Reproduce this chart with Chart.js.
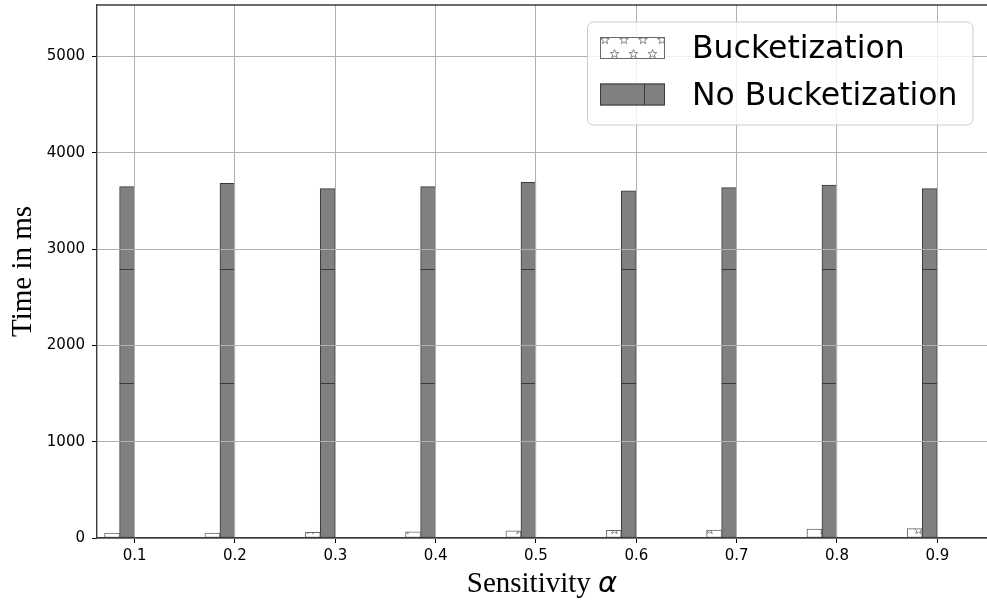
<!DOCTYPE html>
<html>
<head>
<meta charset="utf-8">
<script src="https://cdn.jsdelivr.net/npm/chart.js@4.4.0/dist/chart.umd.min.js"></script>
<style>
  html, body { margin: 0; padding: 0; background: #fff; }
  #wrap { width: 987px; height: 603px; }
</style>
</head>
<body>
<div id="wrap"><canvas id="grafico" width="987" height="603"></canvas></div>
<script>
// sensitivity values on the x axis
const alphas = [0.1, 0.2, 0.3, 0.4, 0.5, 0.6, 0.7, 0.8, 0.9];
// run time in ms
const timeBucket = [50, 52, 58, 65, 74, 80, 83, 92, 98];
const timeNoBucket = [3649, 3683, 3628, 3649, 3693, 3604, 3638, 3666, 3628];
const yTicks = [0, 1000, 2000, 3000, 4000, 5000];
const seriesNames = ['Bucketization', 'No Bucketization'];

// bar width in alpha units, both bars sit left of the tick
const barW = 0.015;
const hatchRows = [1610, 2795];

function drawStar(g, cx, cy, ro, ri) {
  g.beginPath();
  for (let k = 0; k < 10; k++) {
    const r = k % 2 ? ri : ro;
    const a = -Math.PI / 2 + k * Math.PI / 5;
    const px = cx + r * Math.cos(a), py = cy + r * Math.sin(a);
    if (k === 0) g.moveTo(px, py); else g.lineTo(px, py);
  }
  g.closePath();
  g.stroke();
}

// star hatch, two offset rows per tile, wrapped at the tile edges
function starPattern() {
  const tw = 19, th = 28;
  const c = document.createElement('canvas');
  c.width = tw; c.height = th;
  const g = c.getContext('2d');
  g.fillStyle = '#fff';
  g.fillRect(0, 0, tw, th);
  g.strokeStyle = '#7a7a7a';
  g.lineWidth = 0.9;
  [[16, 12], [6.5, 26]].forEach(([sx, sy]) => {
    for (let dx = -1; dx <= 1; dx++) {
      for (let dy = -1; dy <= 1; dy++) {
        drawStar(g, sx + dx * tw, sy + dy * th, 4.6, 1.9);
      }
    }
  });
  return g.createPattern(c, 'repeat');
}
const stars = starPattern();

const darkFill = '#808080';
const darkEdge = '#3a3a3a';
const lightEdge = '#6a6a6a';

const extras = {
  id: 'extras',
  afterDatasetsDraw(chart) {
    // horizontal hatch strokes on the dark bars
    const ctx = chart.ctx;
    const y = chart.scales.y;
    const meta = chart.getDatasetMeta(1);
    ctx.save();
    ctx.strokeStyle = darkEdge;
    ctx.lineWidth = 1;
    meta.data.forEach((bar, i) => {
      hatchRows.forEach(v => {
        if (v >= timeNoBucket[i]) return;
        const py = Math.round(y.getPixelForValue(v)) + 0.5;
        ctx.beginPath();
        ctx.moveTo(bar.x - bar.width / 2, py);
        ctx.lineTo(bar.x + bar.width / 2, py);
        ctx.stroke();
      });
    });
    ctx.restore();
  },
  afterDraw(chart) {
    const ctx = chart.ctx;
    const area = chart.chartArea;
    ctx.save();

    // top spine
    ctx.strokeStyle = '#3a3a3a';
    ctx.lineWidth = 1.4;
    ctx.beginPath();
    ctx.moveTo(area.left, area.top);
    ctx.lineTo(area.right, area.top);
    ctx.stroke();

    // x title with an italic alpha
    const t1 = 'Sensitivity ';
    const t2 = '\u03b1';
    const f1 = '29px "Liberation Serif"';
    const f2 = 'italic 29px "DejaVu Sans"';
    ctx.font = f1; const w1 = ctx.measureText(t1).width;
    ctx.font = f2; const w2 = ctx.measureText(t2).width;
    const cx = (area.left + area.right) / 2;
    const x0 = cx - (w1 + w2) / 2;
    ctx.fillStyle = '#000';
    ctx.textBaseline = 'alphabetic';
    ctx.textAlign = 'left';
    ctx.font = f1; ctx.fillText(t1, x0, 592);
    ctx.font = f2; ctx.fillText(t2, x0 + w1, 592);

    // legend box
    const bx = 587.5, by = 22, bw = 385.5, bh = 103, r = 6;
    ctx.beginPath();
    ctx.moveTo(bx + r, by);
    ctx.arcTo(bx + bw, by, bx + bw, by + bh, r);
    ctx.arcTo(bx + bw, by + bh, bx, by + bh, r);
    ctx.arcTo(bx, by + bh, bx, by, r);
    ctx.arcTo(bx, by, bx + bw, by, r);
    ctx.closePath();
    ctx.fillStyle = 'rgba(255,255,255,0.8)';
    ctx.fill();
    ctx.strokeStyle = '#cccccc';
    ctx.lineWidth = 1;
    ctx.stroke();

    // legend patches
    ctx.fillStyle = stars;
    ctx.fillRect(600, 37, 65, 22);
    ctx.strokeStyle = lightEdge;
    ctx.strokeRect(600.5, 37.5, 64, 21);

    ctx.fillStyle = darkFill;
    ctx.fillRect(600, 83.5, 65, 22);
    ctx.strokeStyle = darkEdge;
    ctx.strokeRect(600.5, 84, 64, 21);
    ctx.beginPath();
    ctx.moveTo(644.5, 84);
    ctx.lineTo(644.5, 105);
    ctx.stroke();

    ctx.fillStyle = '#000';
    ctx.font = '31.5px "DejaVu Sans"';
    ctx.fillText(seriesNames[0], 692, 58);
    ctx.fillText(seriesNames[1], 692, 105);
    ctx.restore();
  }
};

const ctx = document.getElementById('grafico').getContext('2d');
new Chart(ctx, {
  type: 'bar',
  data: {
    datasets: [{
      label: seriesNames[0],
      data: alphas.map((a, i) => ({ x: a - 1.5 * barW, y: timeBucket[i] })),
      backgroundColor: stars,
      borderColor: lightEdge,
      borderWidth: 1,
      borderSkipped: false,
      barThickness: 15
    }, {
      label: seriesNames[1],
      data: alphas.map((a, i) => ({ x: a - 0.5 * barW, y: timeNoBucket[i] })),
      backgroundColor: darkFill,
      borderColor: darkEdge,
      borderWidth: 1,
      borderSkipped: false,
      barThickness: 15
    }]
  },
  options: {
    responsive: false,
    animation: false,
    devicePixelRatio: 1,
    grouped: false,
    layout: { padding: { top: 5, right: 0, left: 0, bottom: 0 } },
    plugins: {
      legend: { display: false },
      tooltip: { enabled: false }
    },
    scales: {
      x: {
        type: 'linear',
        offset: false,
        min: 0.0625,
        max: 0.9495,
        afterBuildTicks: s => { s.ticks = alphas.map(v => ({ value: v })); },
        afterFit: s => { s.height = 65; s.paddingLeft = 0; s.paddingRight = 0; },
        grid: { offset: false, color: '#b0b0b0', lineWidth: 1, z: 1, tickColor: '#000', tickLength: 5 },
        border: { color: '#3a3a3a', width: 1.4, z: 2 },
        ticks: {
          color: '#000',
          padding: 4,
          maxRotation: 0,
          font: { family: 'DejaVu Sans', size: 15 },
          callback: v => v.toFixed(1)
        }
      },
      y: {
        min: 0,
        max: 5535,
        afterBuildTicks: s => { s.ticks = yTicks.map(v => ({ value: v })); },
        afterFit: s => { s.width = 97; s.paddingTop = 0; s.paddingBottom = 0; },
        grid: { color: '#b0b0b0', lineWidth: 1, z: 1, tickColor: '#000', tickLength: 5 },
        border: { color: '#3a3a3a', width: 1.4, z: 2 },
        ticks: {
          color: '#000',
          padding: 7,
          font: { family: 'DejaVu Sans', size: 15 },
          callback: v => String(v)
        },
        title: {
          display: true,
          text: 'Time in ms',
          color: '#000',
          padding: { top: 6, bottom: 0 },
          font: { family: 'Liberation Serif', size: 29, weight: 'normal' }
        }
      }
    }
  },
  plugins: [extras]
});
</script>
</body>
</html>
